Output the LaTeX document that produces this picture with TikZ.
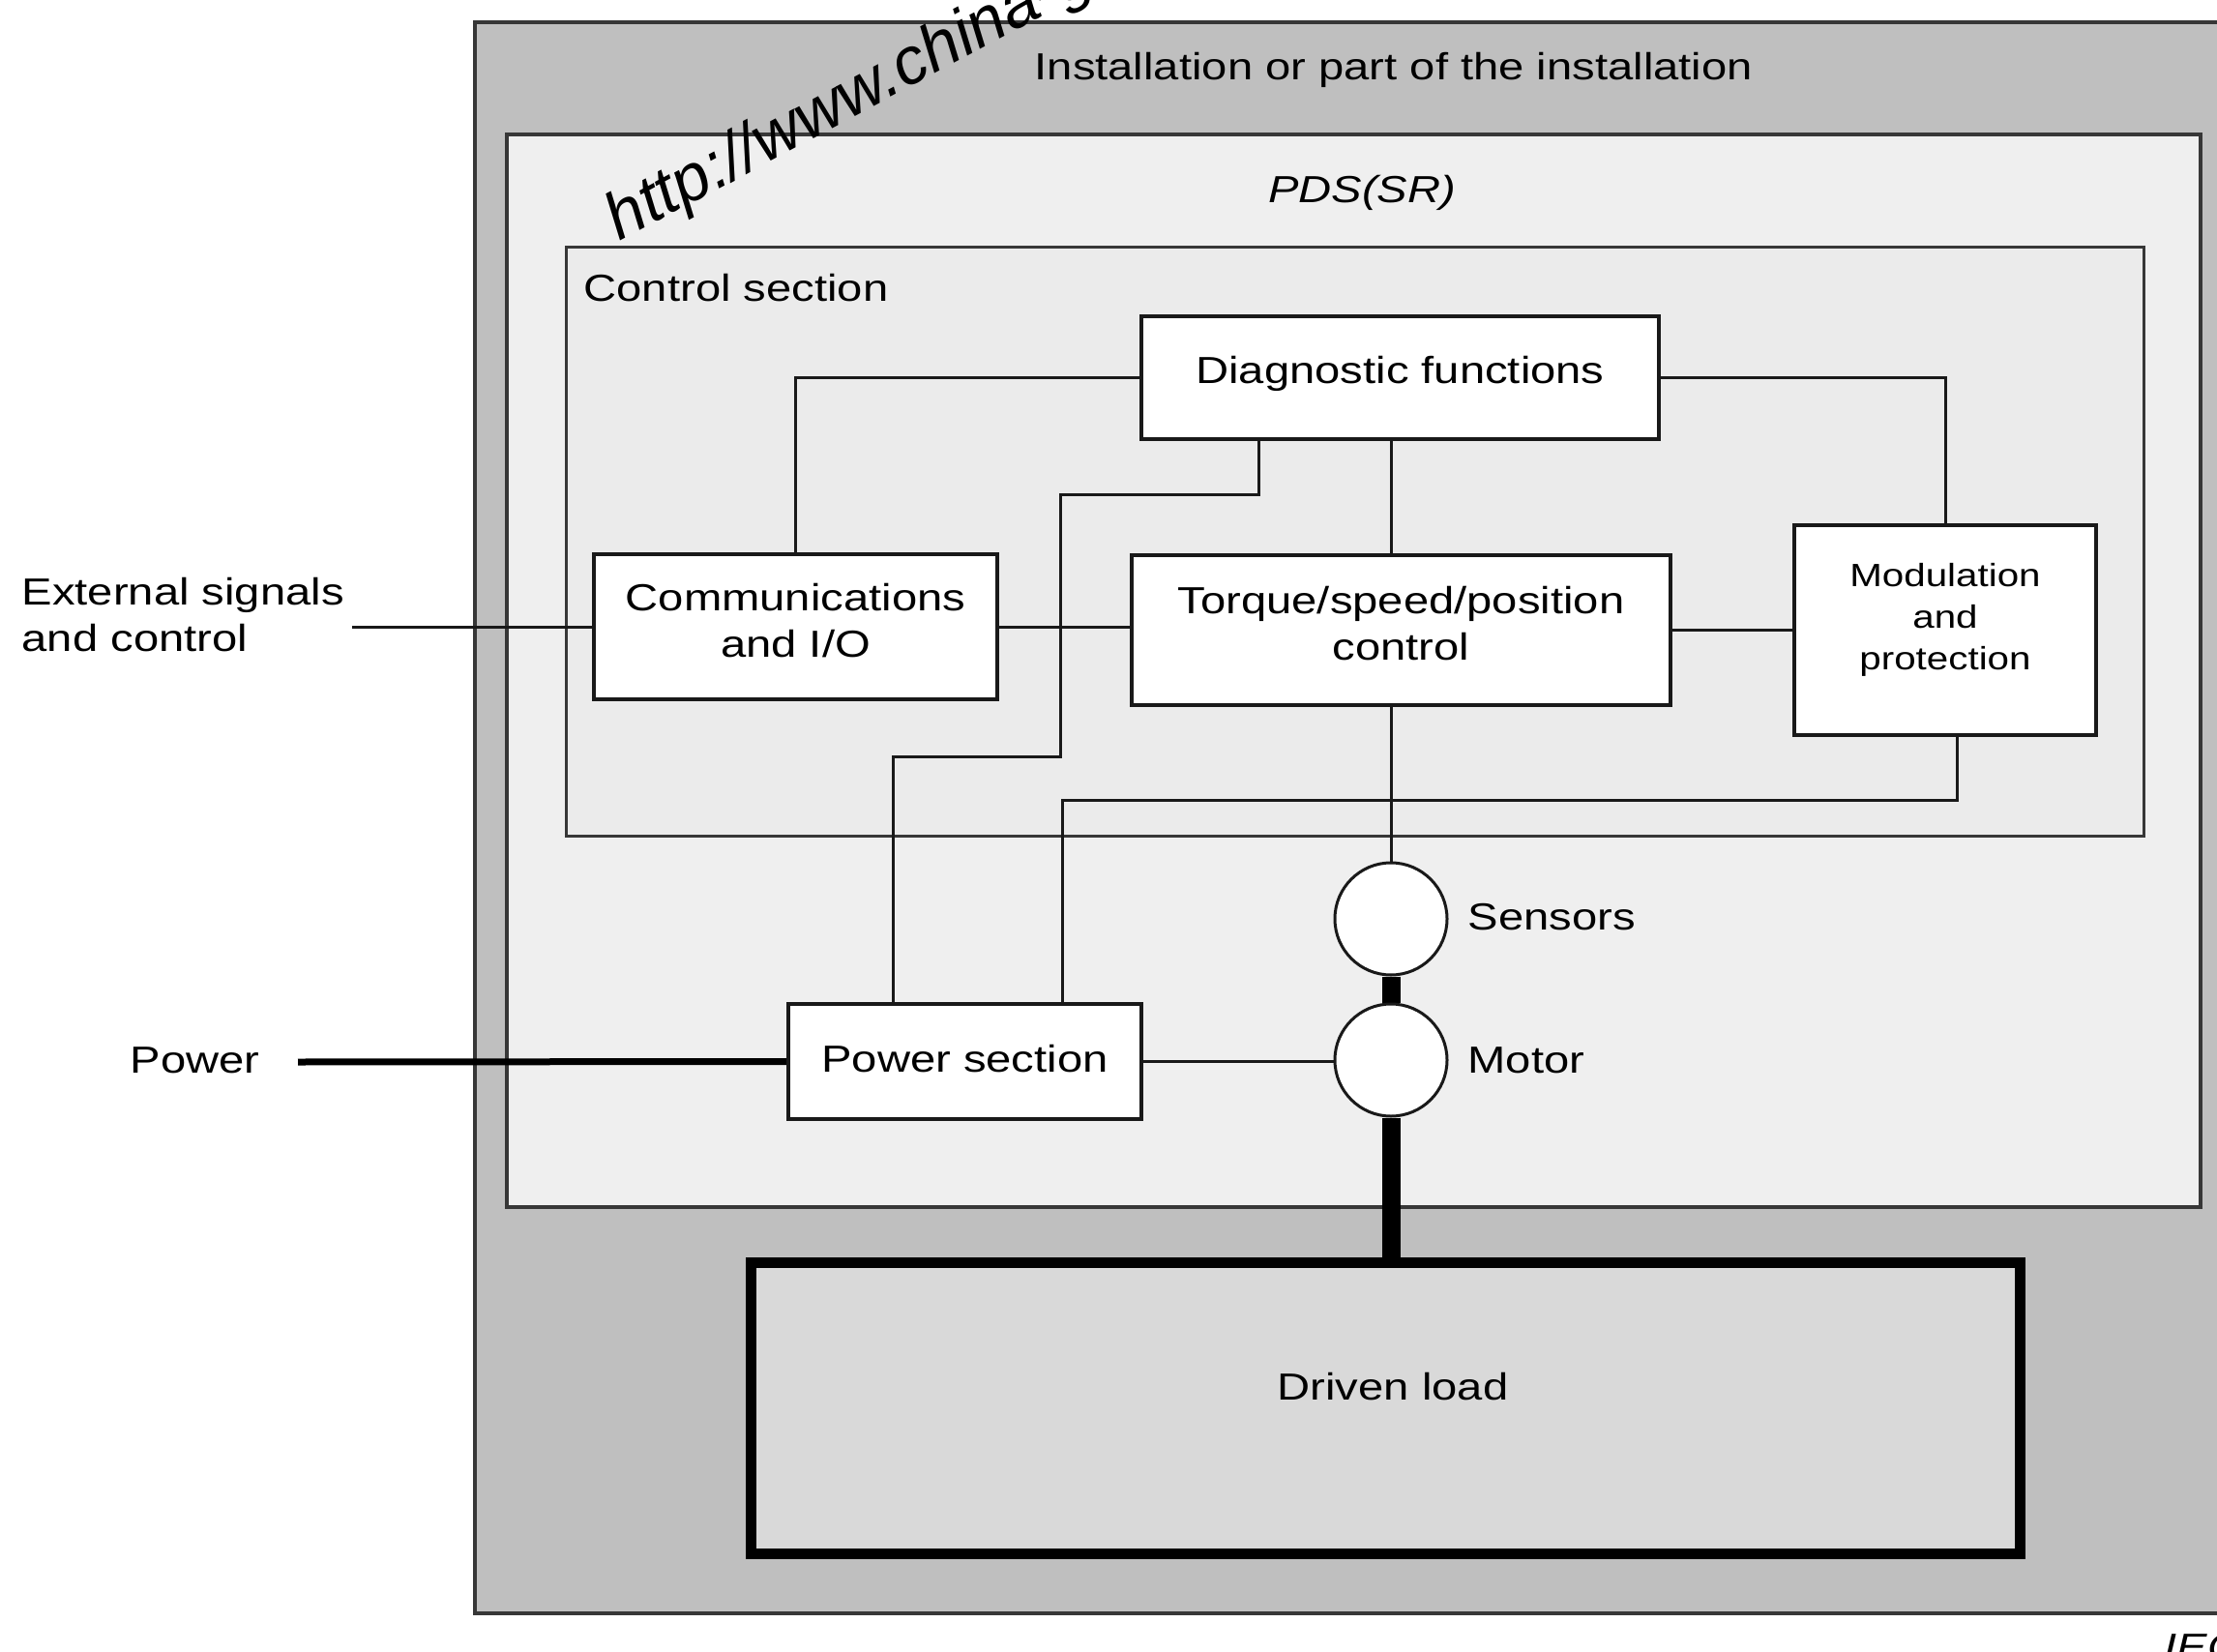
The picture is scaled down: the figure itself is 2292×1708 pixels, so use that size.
\documentclass[tikz,border=0pt]{standalone}
\usepackage{fontspec}
\setmainfont{Liberation Sans}[FakeStretch=1.21]
\newfontfamily\wmfont{Liberation Sans}
\usetikzlibrary{calc}

\definecolor{outergray}{RGB}{191,191,191}
\definecolor{pdsgray}{RGB}{239,239,239}
\definecolor{ctrlgray}{RGB}{235,235,235}
\definecolor{loadgray}{RGB}{217,217,217}
\definecolor{ink}{RGB}{25,25,25}
\definecolor{framecol}{RGB}{55,55,55}

\pgfdeclarelayer{back}
\pgfdeclarelayer{mid}
\pgfsetlayers{back,mid,main}

\begin{document}
\begin{tikzpicture}[x=0.3pt,y=-0.3pt,
  every node/.style={font=\fontsize{11.7}{14.4}\selectfont, text=black},
  block/.style={draw=ink, line width=1.1pt, fill=white, inner sep=0pt},
  btext/.style={inner sep=0pt, align=center},
  wire/.style={draw=ink, line width=0.9pt},
  heavy/.style={draw=black, line width=2.1pt},
  shaft/.style={draw=black, line width=5.7pt},
  disc/.style={circle, draw=ink, line width=0.9pt, fill=white, minimum size=34.8pt, inner sep=0pt},
  lbl/.style={inner sep=0pt, anchor=base west},
  frame/.style={draw=framecol, line width=1pt},
]
\useasboundingbox (0,0) rectangle (2292,1708);
\clip (0,0) rectangle (2292,1708);

% nested enclosures
\begin{pgfonlayer}{back}
  \path[frame, fill=outergray] (491,23) rectangle (2330,1668);
  \path[frame, fill=pdsgray] (524,139) rectangle (2275,1248);
  \path[frame, fill=ctrlgray, line width=0.9pt] (585,256) rectangle (2216,864);
\end{pgfonlayer}

% enclosure titles
\node[lbl] (tinst) at (1069,83) {Installation or part of the installation};
\node[inner sep=0pt, anchor=base, font=\fontsize{11.7}{14.4}\selectfont\itshape] (tpds) at (1408,210) {PDS(SR)};
\node[lbl] (tctrl) at (603,312) {Control section};

% functional blocks
\node[block, minimum width=160.5pt, minimum height=38.1pt] (diag) at (1447.5,390.5) {};
\node[block, minimum width=125.1pt, minimum height=45pt] (comms) at (822.5,648) {};
\node[block, minimum width=167.1pt, minimum height=46.5pt] (torque) at (1448.5,651.5) {};
\node[block, minimum width=93.6pt, minimum height=65.1pt] (mod) at (2011,651.5) {};
\node[block, minimum width=109.5pt, minimum height=35.7pt] (power) at (997.5,1097.5) {};
\node[disc] (sens) at (1438,950) {};
\node[disc] (motor) at (1438,1096) {};
\node[draw=black, line width=3.3pt, fill=loadgray, minimum width=393.6pt, minimum height=90.3pt, inner sep=0pt] (load) at (1432.5,1456) {};

% block texts
\node[btext, yshift=1.3pt] (tdiag) at (diag) {Diagnostic functions};
\node[btext, yshift=1.8pt] (tcomms) at (comms) {Communications\\and I/O};
\node[btext, yshift=2.1pt] (ttorque) at (torque) {Torque/speed/position\\control};
\node[btext, yshift=3.2pt, font=\fontsize{10}{13}\selectfont] (tmod) at (mod) {Modulation\\and\\protection};
\node[btext, yshift=0.8pt] (tpowsec) at (power) {Power section};
\node[inner sep=0pt, anchor=base] (tload) at (1440,1447) {Driven load};

% side labels
\node[lbl] (tsens) at (1517,961) {Sensors};
\node[lbl] (tmotor) at (1517,1109) {Motor};
\node[lbl] (tpower) at (134,1109) {Power};
\node[inner sep=0pt, anchor=west, align=left] (text) at (22,636) {External signals\\and control};

% free ends and bends of the connectors
\coordinate (ext) at (364,648);
\coordinate (pwrin) at (308,1098);
\coordinate (d1) at (1301,511);
\coordinate (d2) at (1096,782);
\coordinate (p1) at (923,0);
\coordinate (m0) at (2023,0);
\coordinate (m1) at (1098,827);

\begin{pgfonlayer}{mid}
  \draw[wire] (ext) -- (comms.west);
  \draw[heavy] (pwrin) -- (power.west);
  \draw[wire] (comms.east) -- (comms.east -| torque.west);
  \draw[wire] (torque.east) -- (mod.west);
  \draw[wire] (diag.west) -| (comms.north);
  \draw[wire] (diag.east) -| (mod.north);
  \draw[wire] (diag.south -| sens) -- (torque.north -| sens);
  \draw[wire] (torque.south -| sens) -- (sens.north);
  \draw[wire] (diag.south -| d1) -- (d1) -| (d2) -| (power.north -| p1);
  \draw[wire] (mod.south -| m0) |- (m1) -- (power.north -| m1);
  \draw[wire] (power.east) -- (power.east -| motor.west);
  \draw[shaft] (sens.south) -- (motor.north);
  \draw[shaft] (motor.south) -- (load.north -| motor.south);
\end{pgfonlayer}

% figure reference
\node[inner sep=0pt, anchor=base west, font=\fontsize{11.7}{14.4}\selectfont\itshape] (tiec) at (2237,1716) {IEC};

% overprinted web address
\node[inner sep=0pt, anchor=base west, rotate=28, font=\wmfont\itshape\fontsize{20.5}{21}\selectfont] (twm) at (640,250) {http://www.china-g};
\end{tikzpicture}
\end{document}
